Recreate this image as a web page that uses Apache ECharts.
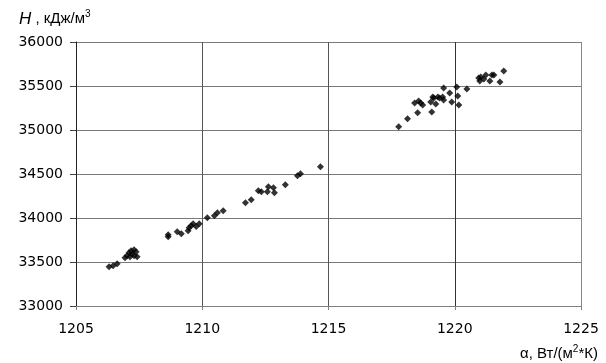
<!DOCTYPE html>
<html>
<head>
<meta charset="utf-8">
<script src="https://cdn.jsdelivr.net/npm/echarts@6/dist/echarts.min.js"></script>
<style>html,body{margin:0;padding:0;background:#fff;}#c{width:606px;height:363px;}</style>
</head>
<body>
<div id="c"></div>
<script>
const alphaValues = [1206.31,1206.47,1206.63,1206.94,1207.02,1207.10,1207.18,1207.30,1207.38,1207.30,1207.42,1207.14,1207.22,
1208.65,1208.65,1209.01,1209.17,1209.44,1209.48,1209.56,1209.64,1209.76,1209.88,1210.20,1210.48,1210.60,1210.83,
1211.71,1211.94,1212.22,1212.34,1212.58,1212.62,1212.82,1212.86,1213.29,1213.77,1213.89,1214.68,
1217.78,1218.13,1218.53,1218.41,1218.57,1218.65,1218.73,1219.09,1219.05,1219.13,1219.17,1219.25,1219.33,1219.40,1219.52,1219.56,1219.56,1219.80,1219.88,1220.08,1220.12,1220.16,1220.48,
1220.95,1221.03,1221.15,1221.23,1221.39,1221.47,1221.55,1221.79,1221.94,1220.99];
const enthalpyValues = [33447,33458,33481,33549,33572,33606,33628,33640,33617,33572,33560,33560,33594,
33787,33810,33844,33821,33855,33889,33912,33934,33904,33934,34002,34025,34059,34082,
34173,34207,34309,34298,34298,34354,34343,34286,34377,34479,34502,34581,
35037,35128,35196,35306,35329,35306,35284,35205,35318,35375,35363,35295,35375,35363,35375,35341,35477,35420,35318,35488,35386,35284,35465,
35590,35601,35579,35624,35556,35624,35624,35545,35670,35556];
const xTicks = [1205,1210,1215,1220,1225];
const yTicks = [33000,33500,34000,34500,35000,35500,36000];

const points = alphaValues.map((a,i)=>[a, enthalpyValues[i]]);
const chart = echarts.init(document.getElementById('c'), null, {renderer:'canvas'});
const font = 'DejaVu Sans, sans-serif';
const font2 = 'Liberation Sans, Arial, sans-serif';
chart.setOption({
  animation:false,
  backgroundColor:'#fff',
  title:[
    {text:'{i|H}{n| , кДж/м}{s|3}', left:14, top:4,
     textStyle:{rich:{
       i:{fontFamily:font2,fontSize:17,fontStyle:'italic',fontWeight:'normal',color:'#000'},
       n:{fontFamily:font2,fontSize:15,fontWeight:'normal',color:'#000'},
       s:{fontFamily:font2,fontSize:10,fontWeight:'normal',color:'#000',padding:[0,0,10,0]}
     }}},
    {text:'{n|α, Вт/(м}{s|2}{n|*К)}', right:3, top:339,
     textStyle:{rich:{
       n:{fontFamily:font2,fontSize:15,fontWeight:'normal',color:'#000'},
       s:{fontFamily:font2,fontSize:10,fontWeight:'normal',color:'#000',padding:[0,0,10,0]}
     }}}
  ],
  grid:{left:76,right:25,top:42,bottom:57,containLabel:false},
  xAxis:{type:'value',min:xTicks[0],max:xTicks[xTicks.length-1],interval:5,
    axisLine:{show:true,onZero:false,lineStyle:{color:'#808080',width:1}},
    axisTick:{show:true,length:4,lineStyle:{color:'#808080'}},
    axisLabel:{margin:16,color:'#000',fontFamily:font,fontSize:14,formatter:v=>String(v)},
    splitLine:{show:true,lineStyle:{color:['#000','#555','#555','#333','#888'],width:1}}
  },
  yAxis:{type:'value',min:yTicks[0],max:yTicks[yTicks.length-1],interval:500,
    axisLine:{show:true,onZero:false,lineStyle:{color:'#222',width:1}},
    axisTick:{show:true,length:6,lineStyle:{color:'#444'}},
    axisLabel:{margin:13,color:'#000',fontFamily:font,fontSize:14,formatter:v=>String(v)},
    splitLine:{show:true,lineStyle:{color:'#7a7a7a',width:1}}
  },
  series:[{type:'scatter',data:points,symbol:'diamond',symbolSize:7,
    itemStyle:{color:'#000'},silent:true}]
});
</script>
</body>
</html>
